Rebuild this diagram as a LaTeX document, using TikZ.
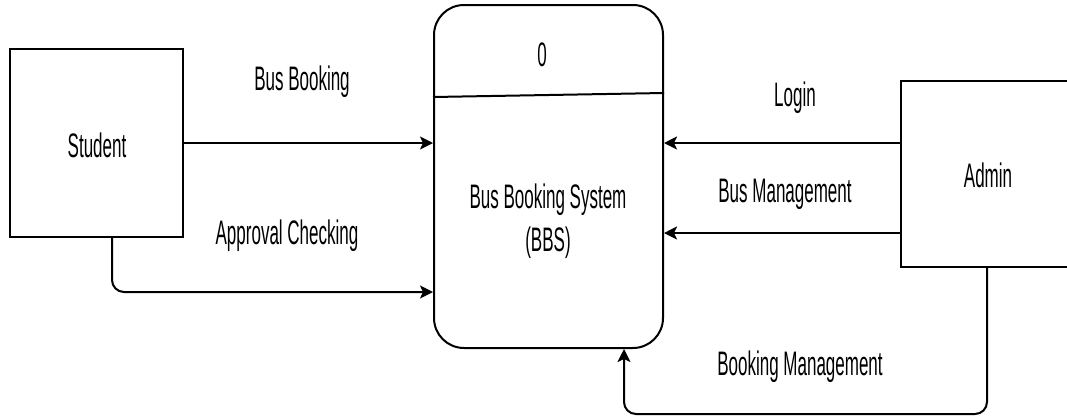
\documentclass[tikz,border=0pt]{standalone}
\usepackage{fontspec}
\setmainfont{Liberation Sans}[FakeStretch=0.5]
\usetikzlibrary{arrows.meta,calc}
\begin{document}
\begin{tikzpicture}[x=1pt,y=-1pt,
  every node/.style={font=\fontsize{34}{43}\selectfont, inner sep=0pt},
  entity/.style={draw, line width=2pt, minimum width=173pt, minimum height=188pt},
  process/.style={draw, line width=2pt, rounded corners=30pt, minimum width=229pt, minimum height=343pt},
  flow/.style={line width=2pt, -{Stealth[length=13pt,width=13pt,inset=3pt]}},
  lbl/.style={}]
  \clip (0,0) rectangle (1067,416);
  \fill[white] (0,0) rectangle (1067,416);

  % external entities and the level-0 process
  \node[entity] (student) at (96.5,143) {};
  \node at (97,145) {Student};
  \node[entity, minimum width=170pt, minimum height=186pt] (admin) at (986,174) {};
  \node at (988,175) {Admin};
  \node[process] (bbs) at (548.5,176.5) {};
  \draw[line width=2pt] (bbs.west |- 0,97) -- (bbs.east |- 0,93);
  \node at (542,55) {0};
  \node[align=center] at (548,221) {Bus Booking System\\(BBS)};

  % data flows
  \draw[flow] (student.east) -- (student.east -| bbs.west);
  \draw[flow, rounded corners=12pt] ([xshift=15.5pt]student.south) |- ($(bbs.west)+(0,115.5)$);
  \draw[flow] ([yshift=31pt]admin.west) -- ([yshift=31pt]admin.west -| bbs.east);
  \draw[flow] ([yshift=-59pt]admin.west) -- ([yshift=-59pt]admin.west -| bbs.east);
  \draw[flow, rounded corners=12pt] ([xshift=1pt]admin.south) -- ++(0,146) -| ([xshift=75.5pt]bbs.south);

  % flow labels
  \node[lbl] at (302,82) {Bus Booking};
  \node[lbl] at (287,236) {Approval Checking};
  \node[lbl] at (795,98) {Login};
  \node[lbl] at (785,194) {Bus Management};
  \node[lbl] at (800,367) {Booking Management};
\end{tikzpicture}
\end{document}
